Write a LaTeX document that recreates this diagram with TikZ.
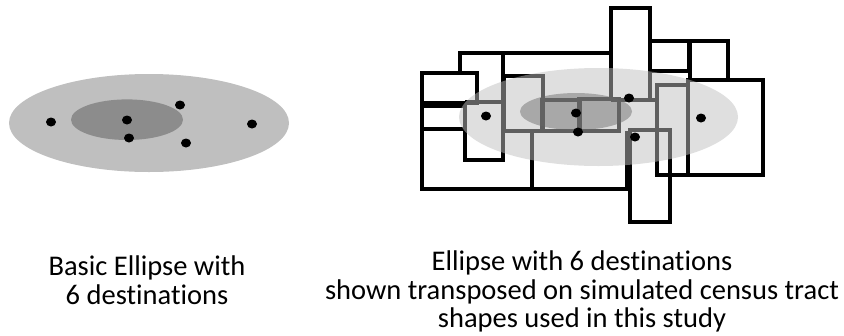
\documentclass[tikz,border=0pt]{standalone}
\usepackage{fontspec}
\setmainfont{Carlito}[Ligatures=NoCommon]
\begin{document}
\begin{tikzpicture}[x=1pt,y=-1pt,
  tract/.style={draw=black, line width=3.2pt},
  dotmark/.style={fill=black},
  caption/.style={align=center, inner sep=0pt, font=\fontsize{28.5}{28.5}\selectfont}]
\useasboundingbox (0,0) rectangle (844,335);
% ---- left: basic ellipse ----
\fill[black!25] (149,123) ellipse [x radius=140pt, y radius=49pt];
\fill[black!45] (127,119.7) ellipse [x radius=56pt, y radius=20.3pt];
\foreach \p in {(51,122),(127,120),(129,138),(180,105),(186,143),(252,124)}
  \fill[dotmark] \p ellipse [x radius=5pt, y radius=4.5pt];
% ---- right: census tracts ----
\draw[tract] (460,73) -- (460,53) -- (611,53);
\draw[tract] (422,73) rectangle (477,103);
\draw[tract] (422,106) -- (465,106);
\draw[tract] (422,129) -- (465,129);
\draw[tract] (422,103) -- (422,189) -- (628,189);
\draw[tract] (503,53) -- (503,160) -- (465,160) -- (465,103);
\draw[tract] (465,102) -- (503,102);
\draw[tract] (532,131) -- (532,189);
\draw[tract] (503,131) -- (619,131);
\draw[tract] (504,76) rectangle (543,131);
\draw[tract] (542,100) rectangle (580,131);
\draw[tract] (579,99) rectangle (619,131);
\draw[tract] (611,100) -- (611,8) -- (650,8) -- (650,100);
\draw[tract] (611,100) -- (657,100);
\draw[tract] (628,130) -- (657,130);
\draw[tract] (627,131) -- (627,189);
\draw[tract] (630,130) rectangle (670,222);
\draw[tract] (650,41) rectangle (689,71);
\draw[tract] (690,41) rectangle (728,80);
\draw[tract] (688,80) rectangle (763,175);
\draw[tract] (657,85) rectangle (688,175);
\fill[black!25, fill opacity=0.5] (598.5,117) ellipse [x radius=139.5pt, y radius=49pt];
\fill[black!60, fill opacity=0.45] (576,111.5) ellipse [x radius=56pt, y radius=18.5pt];
\foreach \p in {(486,116),(576,113),(578,132),(629,98),(635,137),(701,118)}
  \fill[dotmark] \p ellipse [x radius=5pt, y radius=4.5pt];
% ---- captions ----
\node[caption] (capL) at (147,280) {Basic Ellipse with\\6 destinations};
\node[caption] (capR) at (582,291.5) {Ellipse with 6 destinations\\shown transposed on simulated census tract\\shapes used in this study};
\end{tikzpicture}
\end{document}
